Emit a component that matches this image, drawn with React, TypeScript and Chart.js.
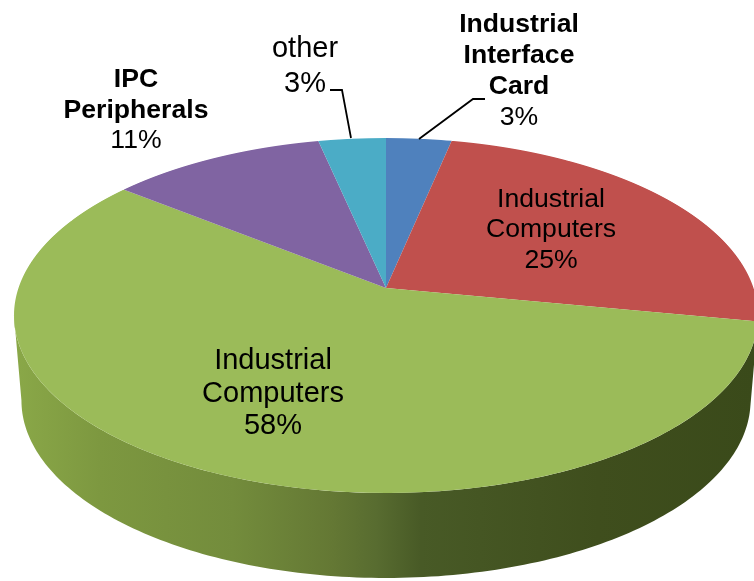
import React, { useEffect, useRef } from "react";
import { Chart, registerables } from "chart.js";

Chart.register(...registerables);

const categories = ["Industrial Interface Card", "Industrial Computers", "Industrial Computers", "IPC Peripherals", "other"];
const shares = [3.3, 24.7, 57.7, 10.9, 3.4];
const sliceColors = ["#4f81bd", "#c0504d", "#9bbb59", "#8064a2", "#4bacc6"];

const FONT = '"Liberation Sans", Arial, sans-serif';

// View of the tilted disc: a perspective projection of the unit circle.
const apexX = 386;
const apexY = 288;
const persp = 0.155;
const scaleU = 367.5;
const scaleV = 173.2;
const wallDepth = 85;
const wallNarrow = 0.98;
const frontSlice = 2;

const wallStops: [number, string][] = [
  [0, "#8aa848"],
  [0.116, "#7d9840"],
  [0.296, "#738c3c"],
  [0.43, "#647834"],
  [0.49, "#586c30"],
  [0.55, "#485a26"],
  [0.79, "#3f4e1d"],
  [1, "#3a4a1a"],
];

const textBlocks = [
  { x: 519, lines: [["Industrial", 1, 32], ["Interface", 1, 63], ["Card", 1, 94], ["3%", 0, 125]], size: 26.6 },
  { x: 551, lines: [["Industrial", 0, 207], ["Computers", 0, 237], ["25%", 0, 268]], size: 26.6 },
  { x: 273, lines: [["Industrial", 0, 369], ["Computers", 0, 402], ["58%", 0, 434]], size: 29 },
  { x: 136, lines: [["IPC", 1, 87], ["Peripherals", 1, 118], ["11%", 0, 148]], size: 26.6 },
  { x: 305, lines: [["other", 0, 57], ["3%", 0, 92]], size: 29 },
];

const leaders = [
  [[330, 90], [342, 90], [351, 138]],
  [[485, 99], [473, 99], [419, 139]],
];

const project = (a: number) => {
  const u = Math.cos(a);
  const v = Math.sin(a);
  const w = 1 - persp * v;
  return { x: apexX + (scaleU * u) / w, y: apexY + (scaleV * v) / w };
};

const rowToV = (y: number) => {
  const t = y - apexY;
  return t / (scaleV + persp * t);
};

const discPlugin = {
  id: "disc",
  beforeDatasetsDraw(chart: any) {
    const ctx: CanvasRenderingContext2D = chart.ctx;
    const arcs = chart.getDatasetMeta(0).data;
    const R = arcs[0].outerRadius;
    const cx0 = arcs[0].x;
    const cy0 = arcs[0].y;

    // Side wall of the front slice
    const front = arcs[frontSlice];
    const ext = Math.asin(persp);
    const from = Math.max(front.startAngle, ext);
    const to = Math.min(front.endAngle, Math.PI - ext);
    const n = 160;
    ctx.save();
    ctx.beginPath();
    for (let i = 0; i <= n; i++) {
      const p = project(from + ((to - from) * i) / n);
      if (i === 0) ctx.moveTo(p.x, p.y);
      else ctx.lineTo(p.x, p.y);
    }
    for (let i = n; i >= 0; i--) {
      const p = project(from + ((to - from) * i) / n);
      ctx.lineTo(apexX + (p.x - apexX) * wallNarrow, p.y + wallDepth);
    }
    ctx.closePath();
    const g = ctx.createLinearGradient(14, 0, 754, 0);
    wallStops.forEach(([o, c]) => g.addColorStop(o, c));
    ctx.fillStyle = g;
    ctx.fill();
    ctx.restore();

    // Top face: the library's arcs, drawn scanline by scanline through the projection
    const top = Math.floor(apexY - scaleV / (1 + persp)) - 1;
    const bottom = Math.ceil(apexY + scaleV / (1 - persp)) + 1;
    for (let y = top; y < bottom; y++) {
      const v0 = rowToV(y);
      const v1 = rowToV(y + 1);
      const w = 1 - persp * ((v0 + v1) / 2);
      const sx = scaleU / w / R;
      const sy = 1 / (v1 - v0) / R;
      ctx.save();
      ctx.beginPath();
      ctx.rect(0, y, chart.width, 1);
      ctx.clip();
      ctx.translate(apexX, y - v0 / (v1 - v0));
      ctx.scale(sx, sy);
      ctx.translate(-cx0, -cy0);
      arcs.forEach((a: any) => a.draw(ctx));
      ctx.restore();
    }
    return false;
  },
  afterDraw(chart: any) {
    const ctx: CanvasRenderingContext2D = chart.ctx;
    ctx.save();
    ctx.strokeStyle = "#000";
    ctx.lineWidth = 1.8;
    leaders.forEach((pts) => {
      ctx.beginPath();
      pts.forEach(([x, y], i) => (i ? ctx.lineTo(x, y) : ctx.moveTo(x, y)));
      ctx.stroke();
    });
    ctx.fillStyle = "#000";
    ctx.textAlign = "center";
    ctx.textBaseline = "alphabetic";
    textBlocks.forEach((b) => {
      b.lines.forEach(([t, bold, y]) => {
        ctx.font = `${bold ? "bold " : ""}${b.size}px ${FONT}`;
        ctx.fillText(t as string, b.x, y as number);
      });
    });
    ctx.restore();
  },
};

export default function App() {
  const ref = useRef<HTMLCanvasElement>(null);
  useEffect(() => {
    const chart = new Chart(ref.current as HTMLCanvasElement, {
      type: "pie",
      data: {
        labels: categories,
        datasets: [{ data: shares, backgroundColor: sliceColors, borderWidth: 0 }],
      },
      options: {
        animation: false,
        responsive: false,
        plugins: { legend: { display: false }, tooltip: { enabled: false } },
      },
      plugins: [discPlugin],
    } as any);
    return () => chart.destroy();
  }, []);
  return (
    <canvas
      ref={ref}
      width={754}
      height={581}
      style={{ position: "absolute", left: 0, top: 0, width: 754, height: 581, background: "#fff" }}
    />
  );
}
